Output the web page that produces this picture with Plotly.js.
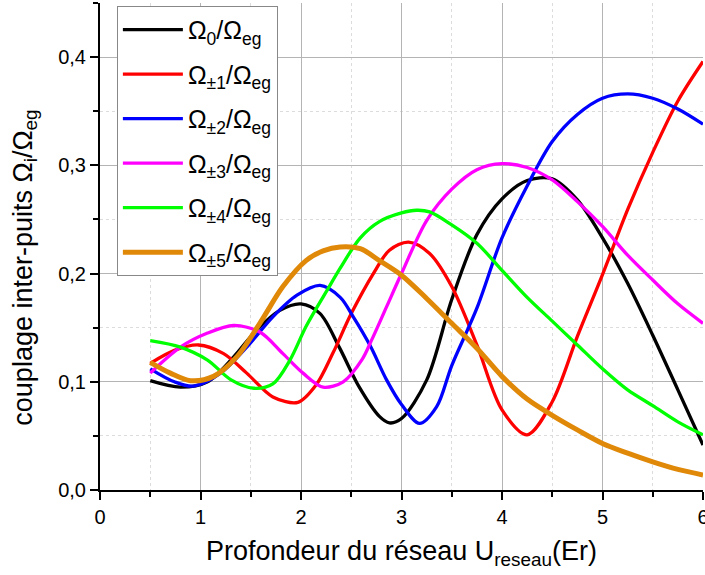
<!DOCTYPE html>
<html>
<head>
<meta charset="utf-8">
<script src="https://cdn.plot.ly/plotly-3.0.1.min.js"></script>
<style>html,body{margin:0;padding:0;background:#fff;}#chart{width:705px;height:575px;}</style>
</head>
<body>
<div id="chart"></div>
<script>
const names = ["Ω<sub>0</sub>/Ω<sub>eg</sub>","Ω<sub>±1</sub>/Ω<sub>eg</sub>","Ω<sub>±2</sub>/Ω<sub>eg</sub>","Ω<sub>±3</sub>/Ω<sub>eg</sub>","Ω<sub>±4</sub>/Ω<sub>eg</sub>","Ω<sub>±5</sub>/Ω<sub>eg</sub>"];
const colors = ["#000000","#ff0000","#0000ff","#ff00ff","#00ff00","#e08808"];
const xTicks = [0,1,2,3,4,5,6];
const xTickText = ['0','1','2','3','4','5','6'];
const yTicks = [0,0.1,0.2,0.3,0.4];
const xTitle = 'Profondeur du réseau U<sub>reseau</sub>(Er)';
const yTitle = 'couplage inter-puits Ω<sub>i</sub>/Ω<sub>eg</sub>';

const x0 = [0.5,0.8,1.07,1.33,1.56,1.79,2.0,2.19,2.38,2.58,2.78,2.88,3.0,3.25,3.5,3.75,4.0,4.25,4.5,4.75,5.0,5.25,5.5,5.75,6.0];
const y0 = [0.101,0.095,0.100,0.123,0.148,0.166,0.172,0.163,0.132,0.095,0.068,0.062,0.066,0.1015,0.176,0.236,0.269,0.286,0.2875,0.268,0.233,0.191,0.143,0.0925,0.0416];

const x1 = [0.5,0.74,0.98,1.23,1.46,1.72,1.97,2.15,2.32,2.5,2.72,2.88,3.07,3.28,3.5,3.75,4.0,4.25,4.5,4.75,5.0,5.25,5.5,5.75,6.0];
const y1 = [0.117,0.129,0.134,0.126,0.108,0.086,0.081,0.097,0.127,0.163,0.200,0.2215,0.229,0.2185,0.188,0.134,0.074,0.051,0.0816,0.142,0.199,0.259,0.312,0.3595,0.396];

const x2 = [0.5,0.74,0.93,1.2,1.46,1.72,1.96,2.19,2.39,2.52,2.69,2.85,3.0,3.18,3.35,3.5,3.75,4.0,4.25,4.5,4.75,5.0,5.25,5.5,5.75,6.0];
const y2 = [0.112,0.100,0.096,0.108,0.132,0.160,0.180,0.189,0.178,0.160,0.133,0.102,0.079,0.0615,0.077,0.115,0.168,0.233,0.281,0.322,0.347,0.362,0.366,0.362,0.352,0.338];

const x3 = [0.5,0.8,1.07,1.33,1.59,1.82,2.02,2.22,2.42,2.61,2.7,2.85,3.0,3.25,3.5,3.75,4.0,4.25,4.5,4.75,5.0,5.25,5.5,5.75,6.0];
const y3 = [0.108,0.132,0.145,0.152,0.146,0.126,0.108,0.095,0.100,0.121,0.138,0.169,0.200,0.249,0.278,0.296,0.3015,0.298,0.2865,0.2665,0.2435,0.217,0.194,0.172,0.154];

const x4 = [0.5,0.8,1.07,1.30,1.53,1.72,1.89,2.05,2.25,2.39,2.59,2.78,3.0,3.15,3.28,3.5,3.75,4.0,4.25,4.5,4.75,5.0,5.25,5.5,5.75,6.0];
const y4 = [0.138,0.132,0.120,0.102,0.094,0.098,0.120,0.151,0.183,0.205,0.233,0.248,0.256,0.2585,0.257,0.245,0.228,0.203,0.178,0.156,0.134,0.112,0.0925,0.078,0.063,0.051];

const x5 = [0.5,0.7,0.9,1.13,1.36,1.59,1.82,2.05,2.22,2.39,2.59,2.78,3.0,3.25,3.5,3.75,4.0,4.25,4.5,4.75,5.0,5.25,5.5,5.75,6.0];
const y5 = [0.118,0.108,0.101,0.105,0.123,0.154,0.188,0.212,0.221,0.2246,0.223,0.212,0.1985,0.177,0.154,0.131,0.105,0.084,0.069,0.0555,0.043,0.034,0.026,0.019,0.0139];

const xs = [x0,x1,x2,x3,x4,x5];
const ys = [y0,y1,y2,y3,y4,y5];
const widths = [3.3,3.3,3.3,3.3,3.3,5];

const traces = xs.map((x,i)=>({
  x: x, y: ys[i], type:'scatter', mode:'lines', name: names[i],
  legendgroup: 'g'+i,
  line:{color:colors[i], width:widths[i], shape:'spline', smoothing:0.9}
}));

const fam = '"Liberation Sans", Arial, sans-serif';

const layout = {
  width:705, height:575,
  margin:{l:100, r:2, t:3, b:85},
  paper_bgcolor:'#fff', plot_bgcolor:'#fff',
  separators:', ',
  font:{family:fam, color:'#000'},
  showlegend:true,
  legend:{
    x:0.028, y:0.994, xanchor:'left', yanchor:'top',
    bgcolor:'#fff', bordercolor:'#888', borderwidth:1,
    font:{family:fam, size:25, color:'#000'},
    itemwidth:60, tracegroupgap:9
  },
  xaxis:{
    range:[0,6], tickvals:xTicks, ticktext:xTickText,
    ticklabeloverflow:'allow',
    showline:true, linecolor:'#000', linewidth:2, mirror:false,
    ticks:'outside', ticklen:8, tickwidth:2, tickcolor:'#000',
    tickfont:{family:fam, size:20, color:'#000'},
    showgrid:true, gridcolor:'#b4b4b4', gridwidth:1, zeroline:false,
    minor:{dtick:0.5, ticks:'outside', ticklen:5, tickwidth:2, tickcolor:'#000', showgrid:true, gridcolor:'#dcdcdc', griddash:'dot', gridwidth:1},
    title:{text:xTitle, font:{family:fam, size:27, color:'#000'}, standoff:14}
  },
  yaxis:{
    range:[0,0.45], tickvals:yTicks, tickformat:'.1f',
    showline:true, linecolor:'#000', linewidth:2, mirror:false,
    ticks:'outside', ticklen:8, tickwidth:2, tickcolor:'#000',
    tickfont:{family:fam, size:20, color:'#000'},
    showgrid:true, gridcolor:'#b4b4b4', gridwidth:1, zeroline:false,
    minor:{dtick:0.05, ticks:'outside', ticklen:5, tickwidth:2, tickcolor:'#000', showgrid:true, gridcolor:'#dcdcdc', griddash:'dot', gridwidth:1}
  },
  annotations:[{
    text:yTitle, textangle:-90, showarrow:false,
    xref:'paper', yref:'paper', x:-0.124, y:0.457, xanchor:'center', yanchor:'middle',
    font:{family:fam, size:27, color:'#000'}
  }]
};

Plotly.newPlot('chart', traces, layout, {displayModeBar:false, staticPlot:true});
</script>
</body>
</html>
